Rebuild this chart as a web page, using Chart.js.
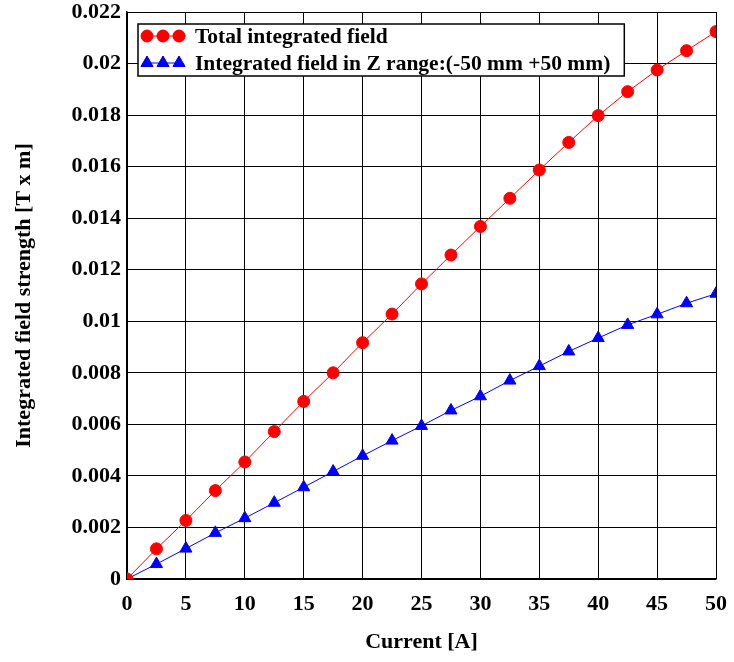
<!DOCTYPE html>
<html>
<head>
<meta charset="utf-8">
<script src="https://cdn.jsdelivr.net/npm/chart.js@4/dist/chart.umd.min.js"></script>
<style>
  html, body { margin: 0; padding: 0; background: #fff; }
  canvas { display: block; }
</style>
</head>
<body>
<canvas id="chartField" width="734" height="662"></canvas>
<script>
const currentA = [0, 2.5, 5, 7.5, 10, 12.5, 15, 17.5, 20, 22.5, 25, 27.5, 30, 32.5, 35, 37.5, 40, 42.5, 45, 47.5, 50];
const totalField = [0, 0.00117, 0.00227, 0.00343, 0.00454, 0.00572, 0.00689, 0.0080, 0.00917, 0.01028,
  0.01145, 0.01257, 0.01368, 0.01477, 0.01587, 0.01694, 0.01798, 0.01891, 0.01975, 0.0205, 0.02124];
const zRangeField = [0, 0.00058, 0.00118, 0.00179, 0.00236, 0.00296, 0.00356, 0.00417, 0.00478, 0.00537,
  0.00594, 0.00654, 0.00709, 0.0077, 0.00826, 0.00883, 0.00935, 0.00986, 0.01027, 0.0107, 0.01107];
const seriesLabels = ['Total integrated field', 'Integrated field in Z range:(-50 mm +50 mm)'];

(function () {
  const serif = '"Liberation Serif", "Times New Roman", serif';
  const font = { family: serif, size: 22, weight: 'bold' };
  const tickFont = { family: serif, size: 22, weight: 'bold', lineHeight: 1 };
  Chart.defaults.color = '#000';
  Chart.defaults.font.family = serif;

  const pts = (ys) => currentA.map((x, i) => ({ x: x, y: ys[i] }));

  // legend box drawn inside the plot, top-left
  const boxLegend = {
    id: 'boxLegend',
    afterDraw(chart) {
      const ctx = chart.ctx;
      const sets = chart.data.datasets;
      ctx.save();
      ctx.font = 'bold 21.5px ' + serif;
      const textX = 195;
      let w = 0;
      sets.forEach(d => { w = Math.max(w, ctx.measureText(d.label).width); });
      const x0 = 138, y0 = 24, x1 = textX + w + 14, y1 = 76;
      ctx.fillStyle = '#fff';
      ctx.fillRect(x0, y0, x1 - x0, y1 - y0);
      ctx.strokeStyle = '#000';
      ctx.lineWidth = 1.5;
      ctx.strokeRect(x0, y0, x1 - x0, y1 - y0);
      sets.forEach((d, i) => {
        const y = 36 + i * 27;
        ctx.strokeStyle = d.borderColor;
        ctx.lineWidth = 1;
        ctx.beginPath();
        ctx.moveTo(146, y);
        ctx.lineTo(179, y);
        ctx.stroke();
        [147, 163, 179].forEach(mx => {
          Chart.helpers.drawPoint(ctx, {
            pointStyle: d.pointStyle, radius: d.pointRadius, borderWidth: 1
          }, mx, y);
          ctx.fillStyle = d.backgroundColor;
          ctx.fill();
        });
        ctx.fillStyle = '#000';
        ctx.textBaseline = 'middle';
        ctx.textAlign = 'left';
        ctx.fillText(d.label, textX, y + 1);
      });
      ctx.restore();
    }
  };

  new Chart(document.getElementById('chartField'), {
    type: 'line',
    data: {
      datasets: [{
        label: seriesLabels[0],
        data: pts(totalField),
        borderColor: '#ff0000',
        backgroundColor: '#ff0000',
        borderWidth: 1,
        pointStyle: 'circle',
        pointRadius: 6,
        pointBorderWidth: 1,
        tension: 0,
      }, {
        label: seriesLabels[1],
        data: pts(zRangeField),
        borderColor: '#0000ff',
        backgroundColor: '#0000ff',
        borderWidth: 1,
        pointStyle: 'triangle',
        pointRadius: 7,
        pointBorderWidth: 1,
        tension: 0,
      }],
    },
    options: {
      responsive: false,
      animation: false,
      layout: { padding: { top: 12, right: 18, left: 0, bottom: 0 } },
      plugins: { legend: { display: false }, tooltip: { enabled: false } },
      scales: {
        x: {
          type: 'linear',
          min: 0, max: 50,
          ticks: { stepSize: 5, font: tickFont, padding: 14, maxRotation: 0 },
          grid: { color: '#000', lineWidth: 1, drawTicks: false },
          border: { color: '#000', width: 1.5 },
          title: { display: true, text: 'Current [A]', font: font, padding: { top: 0, bottom: 6 } },
          afterFit(scale) { scale.height = 83; scale.paddingRight = 0; scale.paddingLeft = 0; },
        },
        y: {
          min: 0, max: 0.022,
          ticks: {
            stepSize: 0.002, font: tickFont, padding: 6,
            callback: (v) => String(Number(v.toFixed(3))),
          },
          grid: { color: '#000', lineWidth: 1, drawTicks: false },
          border: { color: '#000', width: 1.5 },
          title: { display: true, text: 'Integrated field strength [T x m]', font: font, padding: { top: 11, bottom: 0 } },
          afterFit(scale) { scale.width = 127; scale.paddingTop = 0; scale.paddingBottom = 0; },
        },
      },
    },
    plugins: [boxLegend],
  });
})();
</script>
</body>
</html>
